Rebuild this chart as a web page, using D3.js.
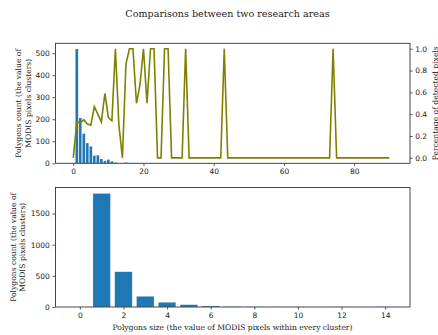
<!DOCTYPE html>
<html>
<head>
<meta charset="utf-8">
<script src="https://cdn.jsdelivr.net/npm/d3@7"></script>
<style>
  html, body { margin: 0; padding: 0; background: #fff; }
  svg { display: block; }
  .tick text { font-family: "DejaVu Sans", sans-serif; font-size: 7.5px; fill: #222; }
  .tick line { stroke: #333; stroke-width: 0.8px; }
  .domain { display: none; }
  .lbl { font-family: "DejaVu Serif", serif; font-size: 7.6px; fill: #222; }
</style>
</head>
<body>
<svg id="chart" width="438" height="335"></svg>
<script>
// Upper panel: polygon counts by cluster size (index = cluster size 0..91)
const upperSizes = d3.range(0, 92);
const upperCounts = [
  0, 519, 206, 135, 92, 77, 35, 37, 20, 11,
  17, 9, 4, 1, 1, 4, 1, 2, 1, 1,
  1, 0, 0, 0, 0, 0, 0, 0, 0, 0,
  0, 0, 0, 0, 0, 0, 0, 0, 0, 0,
  0, 0, 0, 0, 0, 0, 0, 0, 0, 0,
  0, 0, 0, 0, 0, 0, 0, 0, 0, 0,
  0, 0, 0, 0, 0, 0, 0, 0, 0, 0,
  0, 0, 0, 0, 0, 0, 0, 0, 0, 0,
  0, 0, 0, 0, 0, 0, 0, 0, 0, 0,
  0, 0
];

// Upper panel: share of detected pixels per cluster size (0..90)
const detectedSizes = d3.range(0, 91);
const detectedShare = [
  0.00, 0.33, 0.32, 0.35, 0.31, 0.30, 0.47, 0.40, 0.33, 0.59,
  0.37, 0.34, 1.00, 0.30, 0.00, 0.86, 1.00, 1.00, 0.50, 0.67,
  1.00, 0.50, 1.00, 1.00, 0.00, 0.00, 1.00, 1.00, 0.00, 0.00,
  0.00, 0.00, 1.00, 0.00, 0.00, 0.00, 0.00, 0.00, 0.00, 0.00,
  0.00, 0.00, 0.00, 1.00, 0.00, 0.00, 0.00, 0.00, 0.00, 0.00,
  0.00, 0.00, 0.00, 0.00, 0.00, 0.00, 0.00, 0.00, 0.00, 0.00,
  0.00, 0.00, 0.00, 0.00, 0.00, 0.00, 0.00, 0.00, 0.00, 0.00,
  0.00, 0.00, 0.00, 0.00, 1.00, 0.00, 0.00, 0.00, 0.00, 0.00,
  0.00, 0.00, 0.00, 0.00, 0.00, 0.00, 0.00, 0.00, 0.00, 0.00,
  0.00
];

// Lower panel: polygon counts by cluster size (0..14)
const lowerSizes = d3.range(0, 15);
const lowerCounts = [0, 1822, 566, 171, 75, 37, 16, 6, 2, 1, 1, 0, 1, 0, 2];

// Tick labels
const upperXTicks = [0, 20, 40, 60, 80];
const upperYTicks = [0, 100, 200, 300, 400, 500];
const shareTicks = [0, 0.2, 0.4, 0.6, 0.8, 1.0];
const lowerXTicks = [0, 2, 4, 6, 8, 10, 12, 14];
const lowerYTicks = [0, 500, 1000, 1500];

const barColor = "#1f77b4";
const lineColor = "#808000";
const svg = d3.select("#chart");

svg.append("text")
  .attr("class", "lbl")
  .attr("x", 227.5).attr("y", 16.5)
  .attr("text-anchor", "middle")
  .style("font-size", "9.6px")
  .text("Comparisons between two research areas");

const TK = 2.6, PAD = 2.6;

// ---------- upper panel ----------
const up = { l: 55, r: 410, t: 43.3, b: 163.3 };
const x1 = d3.scaleLinear().domain([-5.2, 95.9]).range([up.l, up.r]);
const y1 = d3.scaleLinear().domain([0, 545]).range([up.b, up.t]);
const y1r = d3.scaleLinear().domain([-0.05, 1.05]).range([up.b, up.t]);

const g1 = svg.append("g");
svg.append("clipPath").attr("id", "clipUp")
  .append("rect").attr("x", up.l).attr("y", up.t)
  .attr("width", up.r - up.l).attr("height", up.b - up.t);

g1.append("g").attr("clip-path", "url(#clipUp)")
  .selectAll("rect").data(upperSizes.filter(i => upperCounts[i] > 0)).join("rect")
  .attr("x", i => x1(i - 0.4))
  .attr("width", i => x1(i + 0.4) - x1(i - 0.4))
  .attr("y", i => y1(upperCounts[i]))
  .attr("height", i => y1(0) - y1(upperCounts[i]))
  .attr("fill", barColor)
  .attr("stroke", "rgba(255,255,255,0.35)")
  .attr("stroke-width", 0.5);

const line = d3.line()
  .x(i => x1(detectedSizes[i]))
  .y(i => y1r(detectedShare[i]));
g1.append("path")
  .datum(d3.range(detectedSizes.length))
  .attr("d", line)
  .attr("fill", "none")
  .attr("stroke", lineColor)
  .attr("stroke-width", 1.6)
  .attr("stroke-linejoin", "miter");

g1.append("g").attr("transform", `translate(0,${up.b})`)
  .call(d3.axisBottom(x1).tickValues(upperXTicks).tickSize(TK).tickPadding(PAD).tickFormat(d3.format("d")));
g1.append("g").attr("transform", `translate(${up.l},0)`)
  .call(d3.axisLeft(y1).tickValues(upperYTicks).tickSize(TK).tickPadding(PAD).tickFormat(d3.format("d")));
g1.append("g").attr("transform", `translate(${up.r},0)`)
  .call(d3.axisRight(y1r).tickValues(shareTicks).tickSize(TK).tickPadding(PAD).tickFormat(d3.format(".1f")));

g1.append("rect")
  .attr("x", up.l + 0.5).attr("y", up.t)
  .attr("width", up.r - up.l - 0.5).attr("height", up.b - up.t)
  .attr("fill", "none").attr("stroke", "#333").attr("stroke-width", 0.9);

g1.append("text").attr("class", "lbl")
  .attr("transform", `translate(21.3,${(up.t + up.b) / 2}) rotate(-90)`)
  .attr("text-anchor", "middle")
  .text("Polygons count (the value of");
g1.append("text").attr("class", "lbl")
  .attr("transform", `translate(30.8,${(up.t + up.b) / 2}) rotate(-90)`)
  .attr("text-anchor", "middle")
  .text("MODIS pixels clusters)");
g1.append("text").attr("class", "lbl")
  .attr("transform", `translate(437.5,${(up.t + up.b) / 2}) rotate(-90)`)
  .attr("text-anchor", "middle")
  .text("Percentage of detected pixels");

// ---------- lower panel ----------
const lo = { l: 55, r: 410, t: 187.5, b: 307 };
const x2 = d3.scaleLinear().domain([-1.14, 15.14]).range([lo.l, lo.r]);
const y2 = d3.scaleLinear().domain([0, 1918]).range([lo.b, lo.t]);

const g2 = svg.append("g");
g2.append("g")
  .selectAll("rect").data(lowerSizes.filter(i => lowerCounts[i] > 0)).join("rect")
  .attr("x", i => x2(i - 0.4))
  .attr("width", i => x2(i + 0.4) - x2(i - 0.4))
  .attr("y", i => y2(lowerCounts[i]))
  .attr("height", i => y2(0) - y2(lowerCounts[i]))
  .attr("fill", barColor)
  .attr("stroke", "rgba(255,255,255,0.35)")
  .attr("stroke-width", 0.6);

g2.append("g").attr("transform", `translate(0,${lo.b})`)
  .call(d3.axisBottom(x2).tickValues(lowerXTicks).tickSize(TK).tickPadding(PAD).tickFormat(d3.format("d")));
g2.append("g").attr("transform", `translate(${lo.l},0)`)
  .call(d3.axisLeft(y2).tickValues(lowerYTicks).tickSize(TK).tickPadding(PAD).tickFormat(d3.format("d")));

g2.append("rect")
  .attr("x", lo.l + 0.5).attr("y", lo.t)
  .attr("width", lo.r - lo.l - 0.5).attr("height", lo.b - lo.t)
  .attr("fill", "none").attr("stroke", "#333").attr("stroke-width", 0.9);

g2.append("text").attr("class", "lbl")
  .attr("transform", `translate(15.8,${(lo.t + lo.b) / 2}) rotate(-90)`)
  .attr("text-anchor", "middle")
  .text("Polygons count (the value of");
g2.append("text").attr("class", "lbl")
  .attr("transform", `translate(25.3,${(lo.t + lo.b) / 2}) rotate(-90)`)
  .attr("text-anchor", "middle")
  .text("MODIS pixels clusters)");
g2.append("text").attr("class", "lbl")
  .attr("x", (lo.l + lo.r) / 2).attr("y", 329.5)
  .attr("text-anchor", "middle")
  .text("Polygons size (the value of MODIS pixels within every cluster)");
</script>
</body>
</html>
